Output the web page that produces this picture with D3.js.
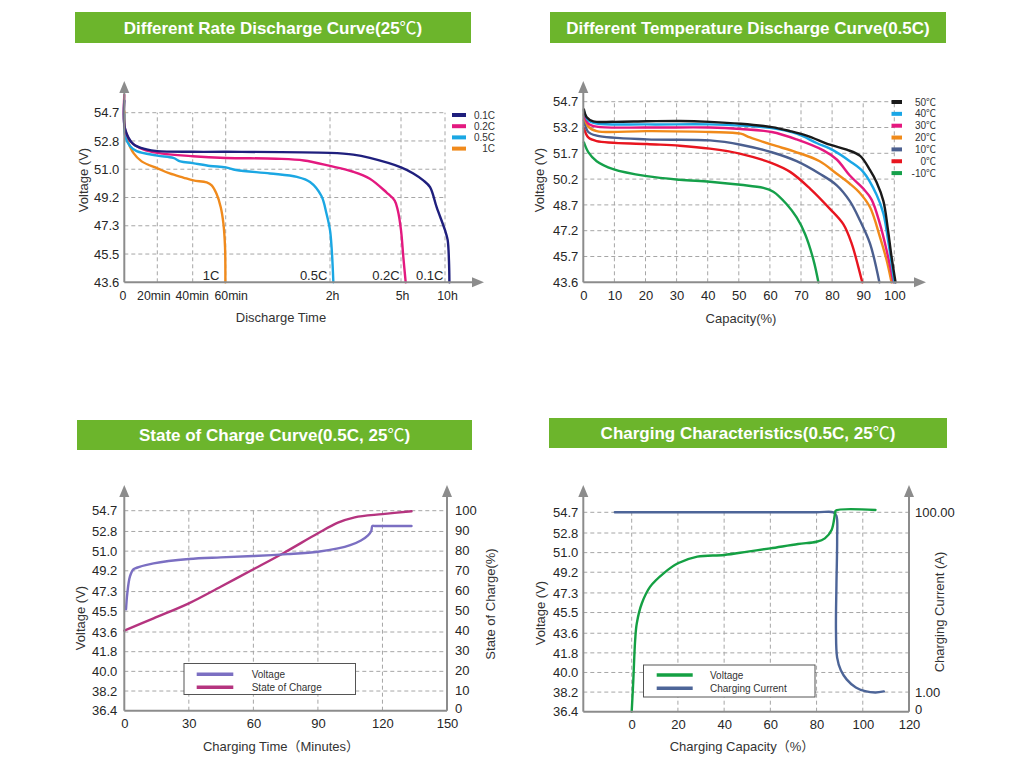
<!DOCTYPE html>
<html>
<head>
<meta charset="utf-8">
<script src="https://cdn.jsdelivr.net/npm/d3@7"></script>
<style>
  body { margin: 0; background: #fff; }
</style>
</head>
<body>
<svg id="chart" width="1024" height="765"></svg>
<script>
// ---- data: discharge at different rates (time in minutes, voltage V)
const rateVoltTicks = [43.6, 45.5, 47.3, 49.2, 51.0, 52.8, 54.7];
const rateTimeTicks = [0, 20, 40, 60, 120, 300, 600];
const rateTimeLabels = ["0", "20min", "40min", "60min", "2h", "5h", "10h"];
const rateNames = ["0.1C", "0.2C", "0.5C", "1C"];
const rateColors = ["#1f1f7d", "#e3197f", "#1ba7e3", "#f08a1c"];
const rate01C = [[0, 55.5], [0.5, 53.6], [5.5, 52.6], [13.5, 52.26], [20, 52.15], [40, 52.11], [60, 52.11], [120, 52.04], [179, 51.93], [221, 51.72], [300, 51.12], [384, 50.73], [452, 50.29], [498, 49.86], [543, 48.55], [600, 47.02], [618, 46.4], [627, 45.06], [630, 43.6]];
const rate02C = [[0, 55.9], [0.5, 53.57], [4.4, 52.7], [11.5, 52.26], [20, 52.04], [40, 51.83], [60, 51.72], [89, 51.67], [105, 51.56], [120, 51.21], [179, 50.84], [221, 50.4], [263, 49.53], [284, 48.99], [292, 48.33], [300, 47.02], [316, 45.28], [332, 43.6]];
const rate05C = [[0, 54.6], [0.5, 53.13], [3.4, 52.48], [7.5, 52.15], [20, 51.87], [29, 51.72], [33, 51.5], [40, 51.39], [50.5, 51.21], [60, 51.12], [66, 50.95], [85.5, 50.73], [101, 50.51], [108.5, 50.19], [115, 49.31], [118, 48.11], [120, 47.02], [124, 45.93], [128.5, 43.6]];
const rate1C = [[0, 54.8], [0.5, 53.35], [2.4, 52.7], [5.5, 52.04], [10.5, 51.5], [20, 51.06], [27, 50.73], [34.7, 50.47], [40.4, 50.29], [48.5, 50.16], [51.5, 49.97], [54.5, 49.42], [57, 48.55], [58.6, 47.46], [59.6, 45.93], [59.8, 43.6]];

// ---- data: discharge at different temperatures (capacity %, voltage V)
const tempVoltTicks = [43.6, 45.7, 47.2, 48.7, 50.2, 51.7, 53.2, 54.7];
const tempCapTicks = [0, 10, 20, 30, 40, 50, 60, 70, 80, 90, 100];
const tempNames = ["50\u2103", "40\u2103", "30\u2103", "20\u2103", "10\u2103", "0\u2103", "-10\u2103"];
const tempColors = ["#1a1a1a", "#1aa6e6", "#e5187f", "#f08a1a", "#4b5f8f", "#e8151f", "#15a04a"];
const temp50 = [[0.2, 54.25], [1.1, 53.8], [3.2, 53.56], [9.6, 53.53], [20.4, 53.56], [31, 53.58], [40.7, 53.53], [50.6, 53.42], [60.6, 53.22], [66.5, 52.99], [71.8, 52.73], [79.3, 52.2], [84.7, 51.91], [89, 51.55], [92.2, 50.72], [94.3, 50.02], [96.5, 48.92], [98, 47.2], [99.1, 45.7], [100.4, 43.6]];
const temp40 = [[0.2, 54.16], [1.6, 53.61], [4.3, 53.43], [20.4, 53.38], [40.7, 53.38], [50.6, 53.31], [60.6, 53.16], [68.6, 52.84], [75, 52.3], [80.4, 51.87], [85.7, 51.24], [90, 50.62], [94.3, 49.29], [96.5, 48.19], [98, 46.64], [100, 43.6]];
const temp30 = [[0.2, 53.98], [1.6, 53.43], [4.3, 53.25], [20.4, 53.2], [40.7, 53.2], [50.6, 53.11], [60.6, 52.94], [68.6, 52.51], [77.2, 51.87], [81.5, 51.34], [85.7, 50.41], [90, 49.65], [92.7, 49.01], [95.4, 47.58], [97.5, 46.08], [99.7, 43.6]];
const temp20 = [[0.2, 53.89], [1.6, 53.25], [4.3, 52.99], [20.4, 52.99], [40.7, 52.94], [50.6, 52.84], [53.6, 52.62], [60.6, 52.2], [68.6, 51.76], [76, 51.24], [81.5, 50.51], [85.7, 49.93], [89, 49.38], [92.2, 48.56], [95.4, 46.83], [97.5, 45.43], [99.1, 43.6]];
const temp10 = [[0.2, 53.62], [1.6, 52.94], [4.3, 52.73], [20.4, 52.51], [40.7, 52.45], [50.6, 52.2], [60.6, 51.76], [68.6, 51.24], [76, 50.51], [81.5, 49.84], [85.7, 48.92], [89, 47.78], [92.2, 46.45], [95.2, 43.6]];
const temp0 = [[0.2, 53.16], [1.6, 52.62], [4.3, 52.41], [20.4, 52.24], [31, 52.14], [40.7, 51.97], [50.6, 51.67], [60.6, 51.13], [66.5, 50.62], [72.9, 49.65], [79.3, 48.47], [83.6, 47.58], [86.3, 46.45], [88.4, 44.88], [89.7, 43.6]];
const tempM10 = [[0.2, 52.33], [1.6, 51.77], [4.3, 51.24], [9.6, 50.78], [20.4, 50.37], [31, 50.16], [40.7, 50.05], [50.6, 49.87], [57.9, 49.69], [61.1, 49.47], [65.4, 48.74], [68.6, 47.97], [71.3, 47.01], [74, 45.43], [75.6, 43.6]];

// ---- data: state of charge curve (minutes, voltage V / SOC %)
const chgVoltTicks = [36.4, 38.2, 40.0, 41.8, 43.6, 45.5, 47.3, 49.2, 51.0, 52.8, 54.7];
const socTicks = [0, 10, 20, 30, 40, 50, 60, 70, 80, 90, 100];
const socTimeTicks = [0, 30, 60, 90, 120, 150];
const socVoltage = [[0.8, 45.67], [1.4, 47.14], [2.6, 48.66], [4.2, 49.33], [5.8, 49.48], [13.6, 49.88], [30, 50.28], [44.8, 50.43], [60, 50.55], [75.9, 50.73], [90, 50.95], [99.3, 51.25], [105, 51.55], [110, 51.98], [113.3, 52.45], [114.8, 52.85], [115.3, 53.3], [116.5, 53.3], [133.5, 53.3]];
const socCharge = [[0, 40], [13.6, 46.2], [30, 53.7], [44.8, 62], [60, 70.7], [74.3, 79], [90, 88.7], [99.3, 94], [107.1, 96.7], [120, 98.3], [133.5, 99.7]];

// ---- data: charging characteristics (capacity %, voltage V / current A)
const capTicks = [0, 20, 40, 60, 80, 100, 120];
const currentTicks = [0, 1, 100];
const currentLabels = ["0", "1.00", "100.00"];
const capVoltage = [[0, 36.4], [0.7, 39.3], [1.5, 42.98], [2.2, 44.51], [4.4, 46.35], [8, 47.88], [13.8, 49.1], [20, 50.02], [28.4, 50.63], [40, 50.78], [50.2, 51.09], [60, 51.39], [72, 51.79], [80, 52.0], [83.6, 52.31], [86.5, 53.08], [88, 54.61], [88.3, 54.85], [105.5, 54.91]];
const capCurrent = [[-7.3, 100], [20, 100], [50, 100], [80, 100], [87.3, 100], [88.6, 98], [88.9, 85], [88.6, 60], [88.4, 35], [88.9, 20], [90.5, 13], [93, 8], [97, 3.5], [101, 1.5], [105.5, 0.98], [109.1, 1.4]];

const FONT = '"Liberation Sans", Arial, "Noto Sans CJK SC", sans-serif';
const CJK = '"Noto Sans CJK SC", "DejaVu Sans", sans-serif';
const axisGray = "#8c8c8c";
const gridGray = "#a6a6a6";
const textColor = "#262626";
const svg = d3.select("#chart");

// writes a label into a text node, with the degree sign set in a thin CJK face
function setLabel(t, label) {
  label.split(/(\u2103)/).filter(s => s.length).forEach(part => {
    const ts = t.append("tspan").text(part);
    if (part === "\u2103") ts.attr("font-family", CJK).attr("font-weight", "normal");
  });
}

function banner(x, y, w, h, label) {
  svg.append("rect").attr("x", x).attr("y", y).attr("width", w).attr("height", h).attr("fill", "#6cb52c");
  const t = svg.append("text").attr("x", x + w / 2).attr("y", y + h / 2 + 6)
    .attr("text-anchor", "middle").attr("fill", "#fff").attr("font-weight", "bold")
    .attr("font-size", 17).attr("font-family", FONT);
  setLabel(t, label);
}

function vArrow(x, yBottom, yTop) {
  svg.append("line").attr("x1", x).attr("x2", x).attr("y1", yBottom).attr("y2", yTop + 8)
    .attr("stroke", axisGray).attr("stroke-width", 2);
  svg.append("path").attr("d", `M${x - 5},${yTop + 12}L${x},${yTop}L${x + 5},${yTop + 12}Z`).attr("fill", axisGray);
}

function hArrow(y, xLeft, xRight) {
  svg.append("line").attr("x1", xLeft).attr("x2", xRight - 8).attr("y1", y).attr("y2", y)
    .attr("stroke", axisGray).attr("stroke-width", 2);
  svg.append("path").attr("d", `M${xRight - 12},${y - 5}L${xRight},${y}L${xRight - 12},${y + 5}Z`).attr("fill", axisGray);
}

function hGrid(y, values, x1, x2) {
  svg.append("g").selectAll("line").data(values).enter().append("line")
    .attr("x1", x1).attr("x2", x2).attr("y1", d => y(d)).attr("y2", d => y(d))
    .attr("stroke", gridGray).attr("stroke-width", 1).attr("stroke-dasharray", "4,3");
}

function vGrid(x, values, y1, y2) {
  svg.append("g").selectAll("line").data(values).enter().append("line")
    .attr("x1", d => x(d)).attr("x2", d => x(d)).attr("y1", y1).attr("y2", y2)
    .attr("stroke", gridGray).attr("stroke-width", 1).attr("stroke-dasharray", "4,3");
}

function styleAxis(g, size) {
  g.select(".domain").remove();
  g.attr("font-family", FONT).attr("font-size", size);
  g.selectAll("text").attr("fill", textColor);
}

function axisTitle(x, y, label, rotate) {
  const t = svg.append("text").attr("text-anchor", "middle").attr("fill", "#333")
    .attr("font-family", FONT).attr("font-size", 13).text(label);
  if (rotate) t.attr("transform", `translate(${x},${y}) rotate(-90)`).attr("dy", "0.35em");
  else t.attr("x", x).attr("y", y).attr("dy", "0.35em");
}

function drawLine(data, x, y, color, width) {
  svg.append("path").datum(data)
    .attr("fill", "none").attr("stroke", color).attr("stroke-width", width || 2.4)
    .attr("stroke-linejoin", "round").attr("stroke-linecap", "round")
    .attr("d", d3.line().x(d => x(d[0])).y(d => y(d[1])).curve(d3.curveCatmullRom.alpha(0.5)));
}

// ================= Panel 1: rate discharge
banner(75, 12, 396, 31, "Different Rate Discharge Curve(25\u2103)");
{
  const x = d3.scaleLinear().domain(rateTimeTicks).range([124.3, 157.3, 192.7, 225.7, 330, 401, 445]);
  const y = d3.scaleLinear().domain(rateVoltTicks)
    .range(rateVoltTicks.map((d, i) => 282.3 - i * (282.3 - 112.7) / (rateVoltTicks.length - 1)));
  hGrid(y, rateVoltTicks.slice(1), 124.3, 445);
  vGrid(x, rateTimeTicks.slice(1), 282.3, y(54.7));
  [rate1C, rate05C, rate02C, rate01C].forEach((s, i) => drawLine(s, x, y, rateColors[3 - i]));
  vArrow(124.3, 282.3, 81);
  hArrow(282.3, 124.3, 484);
  const gy = svg.append("g").attr("transform", "translate(124.3,0)")
    .call(d3.axisLeft(y).tickValues(rateVoltTicks).tickFormat(d3.format(".1f")).tickSize(0).tickPadding(5));
  styleAxis(gy, 13);
  const labelShift = [-2, -4, -1, 5, 2, 1, 2];
  const gx = svg.append("g").attr("transform", "translate(0,282.3)")
    .call(d3.axisBottom(x).tickValues(rateTimeTicks).tickFormat((d, i) => rateTimeLabels[i]).tickSize(0).tickPadding(9));
  styleAxis(gx, 12.3);
  gx.selectAll(".tick text").attr("dx", (d, i) => labelShift[i]);
  // end-of-curve labels
  const ends = [rate01C, rate02C, rate05C, rate1C];
  svg.append("g").selectAll("text").data(ends).enter().append("text")
    .attr("x", d => x(d[d.length - 1][0]) - 6).attr("y", 279.5)
    .attr("text-anchor", "end").attr("font-family", FONT).attr("font-size", 13).attr("fill", textColor)
    .text((d, i) => rateNames[i]);
  // legend
  const lg = svg.append("g").selectAll("g").data(rateNames).enter().append("g")
    .attr("transform", (d, i) => `translate(0,${115 + i * 11.2})`);
  lg.append("line").attr("x1", 452).attr("x2", 466).attr("stroke", (d, i) => rateColors[i]).attr("stroke-width", 4);
  lg.append("text").attr("x", 495).attr("dy", "0.35em").attr("text-anchor", "end")
    .attr("font-family", FONT).attr("font-size", 10).attr("fill", "#333").text(d => d);
  axisTitle(83, 180, "Voltage (V)", true);
  axisTitle(281, 317.5, "Discharge Time", false);
}

// ================= Panel 2: temperature discharge
banner(550, 12, 396, 31, "Different Temperature Discharge Curve(0.5C)");
{
  const x = d3.scaleLinear().domain([0, 100]).range([583.3, 894.3]);
  const y = d3.scaleLinear().domain(tempVoltTicks)
    .range(tempVoltTicks.map((d, i) => 282.3 - i * (282.3 - 101.7) / (tempVoltTicks.length - 1)));
  hGrid(y, tempVoltTicks.slice(1), 583.3, 894.3);
  vGrid(x, tempCapTicks.slice(1), 282.3, y(54.7));
  const series = [temp50, temp40, temp30, temp20, temp10, temp0, tempM10];
  series.slice().reverse().forEach((s, i) => drawLine(s, x, y, tempColors[series.length - 1 - i]));
  vArrow(583.3, 282.3, 81);
  hArrow(282.3, 583.3, 926);
  const gy = svg.append("g").attr("transform", "translate(583.3,0)")
    .call(d3.axisLeft(y).tickValues(tempVoltTicks).tickFormat(d3.format(".1f")).tickSize(0).tickPadding(5));
  styleAxis(gy, 13);
  const gx = svg.append("g").attr("transform", "translate(0,282.3)")
    .call(d3.axisBottom(x).tickValues(tempCapTicks).tickSize(0).tickPadding(8));
  styleAxis(gx, 13);
  const lg = svg.append("g").selectAll("g").data(tempNames).enter().append("g")
    .attr("transform", (d, i) => `translate(0,${102 + i * 11.85})`);
  lg.append("line").attr("x1", 891.5).attr("x2", 902).attr("stroke", (d, i) => tempColors[i]).attr("stroke-width", 4);
  lg.append("text").attr("x", 936).attr("dy", "0.35em").attr("text-anchor", "end")
    .attr("font-family", FONT).attr("font-size", 10).attr("fill", "#333").text(d => d);
  axisTitle(539, 180, "Voltage (V)", true);
  axisTitle(741, 318, "Capacity(%)", false);
}

// ================= Panel 3: state of charge
banner(77, 420, 395, 30, "State of Charge Curve(0.5C, 25\u2103)");
{
  const x = d3.scaleLinear().domain([0, 150]).range([124.3, 447]);
  const y = d3.scaleLinear().domain([36.4, 54.7]).range([710.7, 510.7]);
  const yR = d3.scaleLinear().domain([0, 100]).range([710.7, 510.7]);
  hGrid(y, chgVoltTicks.slice(1), 124.3, 447);
  vGrid(x, socTimeTicks.slice(1, 5), 710.7, 510.7);
  drawLine(socCharge, x, yR, "#b5347f");
  drawLine(socVoltage, x, y, "#7b6fc2");
  vArrow(124.3, 710.7, 485);
  vArrow(447, 710.7, 485);
  svg.append("line").attr("x1", 124.3).attr("x2", 447).attr("y1", 710.7).attr("y2", 710.7)
    .attr("stroke", axisGray).attr("stroke-width", 2);
  const gy = svg.append("g").attr("transform", "translate(124.3,0)")
    .call(d3.axisLeft(y).tickValues(chgVoltTicks).tickFormat(d3.format(".1f")).tickSize(0).tickPadding(7));
  styleAxis(gy, 13);
  const gr = svg.append("g").attr("transform", "translate(447,0)")
    .call(d3.axisRight(yR).tickValues(socTicks).tickSize(0).tickPadding(8));
  styleAxis(gr, 13);
  gr.selectAll(".tick text").filter(d => d === 0).attr("dy", "0.1em");
  const gx = svg.append("g").attr("transform", "translate(0,710.7)")
    .call(d3.axisBottom(x).tickValues(socTimeTicks).tickSize(0).tickPadding(8));
  styleAxis(gx, 13);
  svg.append("rect").attr("x", 184).attr("y", 663.5).attr("width", 171.5).attr("height", 31)
    .attr("fill", "#fff").attr("stroke", "#555").attr("stroke-width", 1);
  const items = [["Voltage", "#7b6fc2"], ["State of Charge", "#b5347f"]];
  const lg = svg.append("g").selectAll("g").data(items).enter().append("g")
    .attr("transform", (d, i) => `translate(0,${674.3 + i * 13})`);
  lg.append("line").attr("x1", 196.7).attr("x2", 233.3).attr("stroke", d => d[1]).attr("stroke-width", 3.5);
  lg.append("text").attr("x", 251.7).attr("dy", "0.35em").attr("font-family", FONT)
    .attr("font-size", 10).attr("fill", "#333").text(d => d[0]);
  axisTitle(80, 618, "Voltage (V)", true);
  axisTitle(490, 604, "State of Charge(%)", true);
  axisTitle(281, 746.5, "Charging Time\uff08Minutes\uff09", false);
}

// ================= Panel 4: charging characteristics
banner(549, 418, 398, 30, "Charging Characteristics(0.5C, 25\u2103)");
{
  const x = d3.scaleLinear().domain([0, 120]).range([631.7, 909]);
  const y = d3.scaleLinear().domain([36.4, 54.7]).range([711.7, 512.3]);
  const yR = d3.scaleLinear().domain(currentTicks).range([711.7, y(38.2), y(54.7)]);
  hGrid(y, chgVoltTicks.slice(1), 583.3, 909);
  vGrid(x, capTicks.slice(0, 6), 711.7, 512.3);
  drawLine(capCurrent, x, yR, "#4d6598");
  drawLine(capVoltage, x, y, "#14a043");
  vArrow(583.3, 711.7, 485);
  vArrow(909, 711.7, 485);
  svg.append("line").attr("x1", 583.3).attr("x2", 909).attr("y1", 711.7).attr("y2", 711.7)
    .attr("stroke", axisGray).attr("stroke-width", 2);
  const gy = svg.append("g").attr("transform", "translate(583.3,0)")
    .call(d3.axisLeft(y).tickValues(chgVoltTicks).tickFormat(d3.format(".1f")).tickSize(0).tickPadding(5));
  styleAxis(gy, 13);
  const gr = svg.append("g").attr("transform", "translate(909,0)")
    .call(d3.axisRight(yR).tickValues(currentTicks).tickFormat((d, i) => currentLabels[i]).tickSize(0).tickPadding(6));
  styleAxis(gr, 13);
  gr.selectAll(".tick text").filter(d => d === 0).attr("dy", "0.1em");
  const gx = svg.append("g").attr("transform", "translate(0,711.7)")
    .call(d3.axisBottom(x).tickValues(capTicks).tickSize(0).tickPadding(8));
  styleAxis(gx, 13);
  svg.append("rect").attr("x", 643.5).attr("y", 665).attr("width", 171.5).attr("height", 32)
    .attr("fill", "#fff").attr("stroke", "#555").attr("stroke-width", 1);
  const items = [["Voltage", "#14a043"], ["Charging Current", "#4d6598"]];
  const lg = svg.append("g").selectAll("g").data(items).enter().append("g")
    .attr("transform", (d, i) => `translate(0,${675 + i * 13.3})`);
  lg.append("line").attr("x1", 656.7).attr("x2", 692.7).attr("stroke", d => d[1]).attr("stroke-width", 3.5);
  lg.append("text").attr("x", 710).attr("dy", "0.35em").attr("font-family", FONT)
    .attr("font-size", 10).attr("fill", "#333").text(d => d[0]);
  axisTitle(540, 613, "Voltage (V)", true);
  axisTitle(939, 612, "Charging Current (A)", true);
  axisTitle(742, 746.5, "Charging Capacity\uff08%\uff09", false);
}
</script>
</body>
</html>
